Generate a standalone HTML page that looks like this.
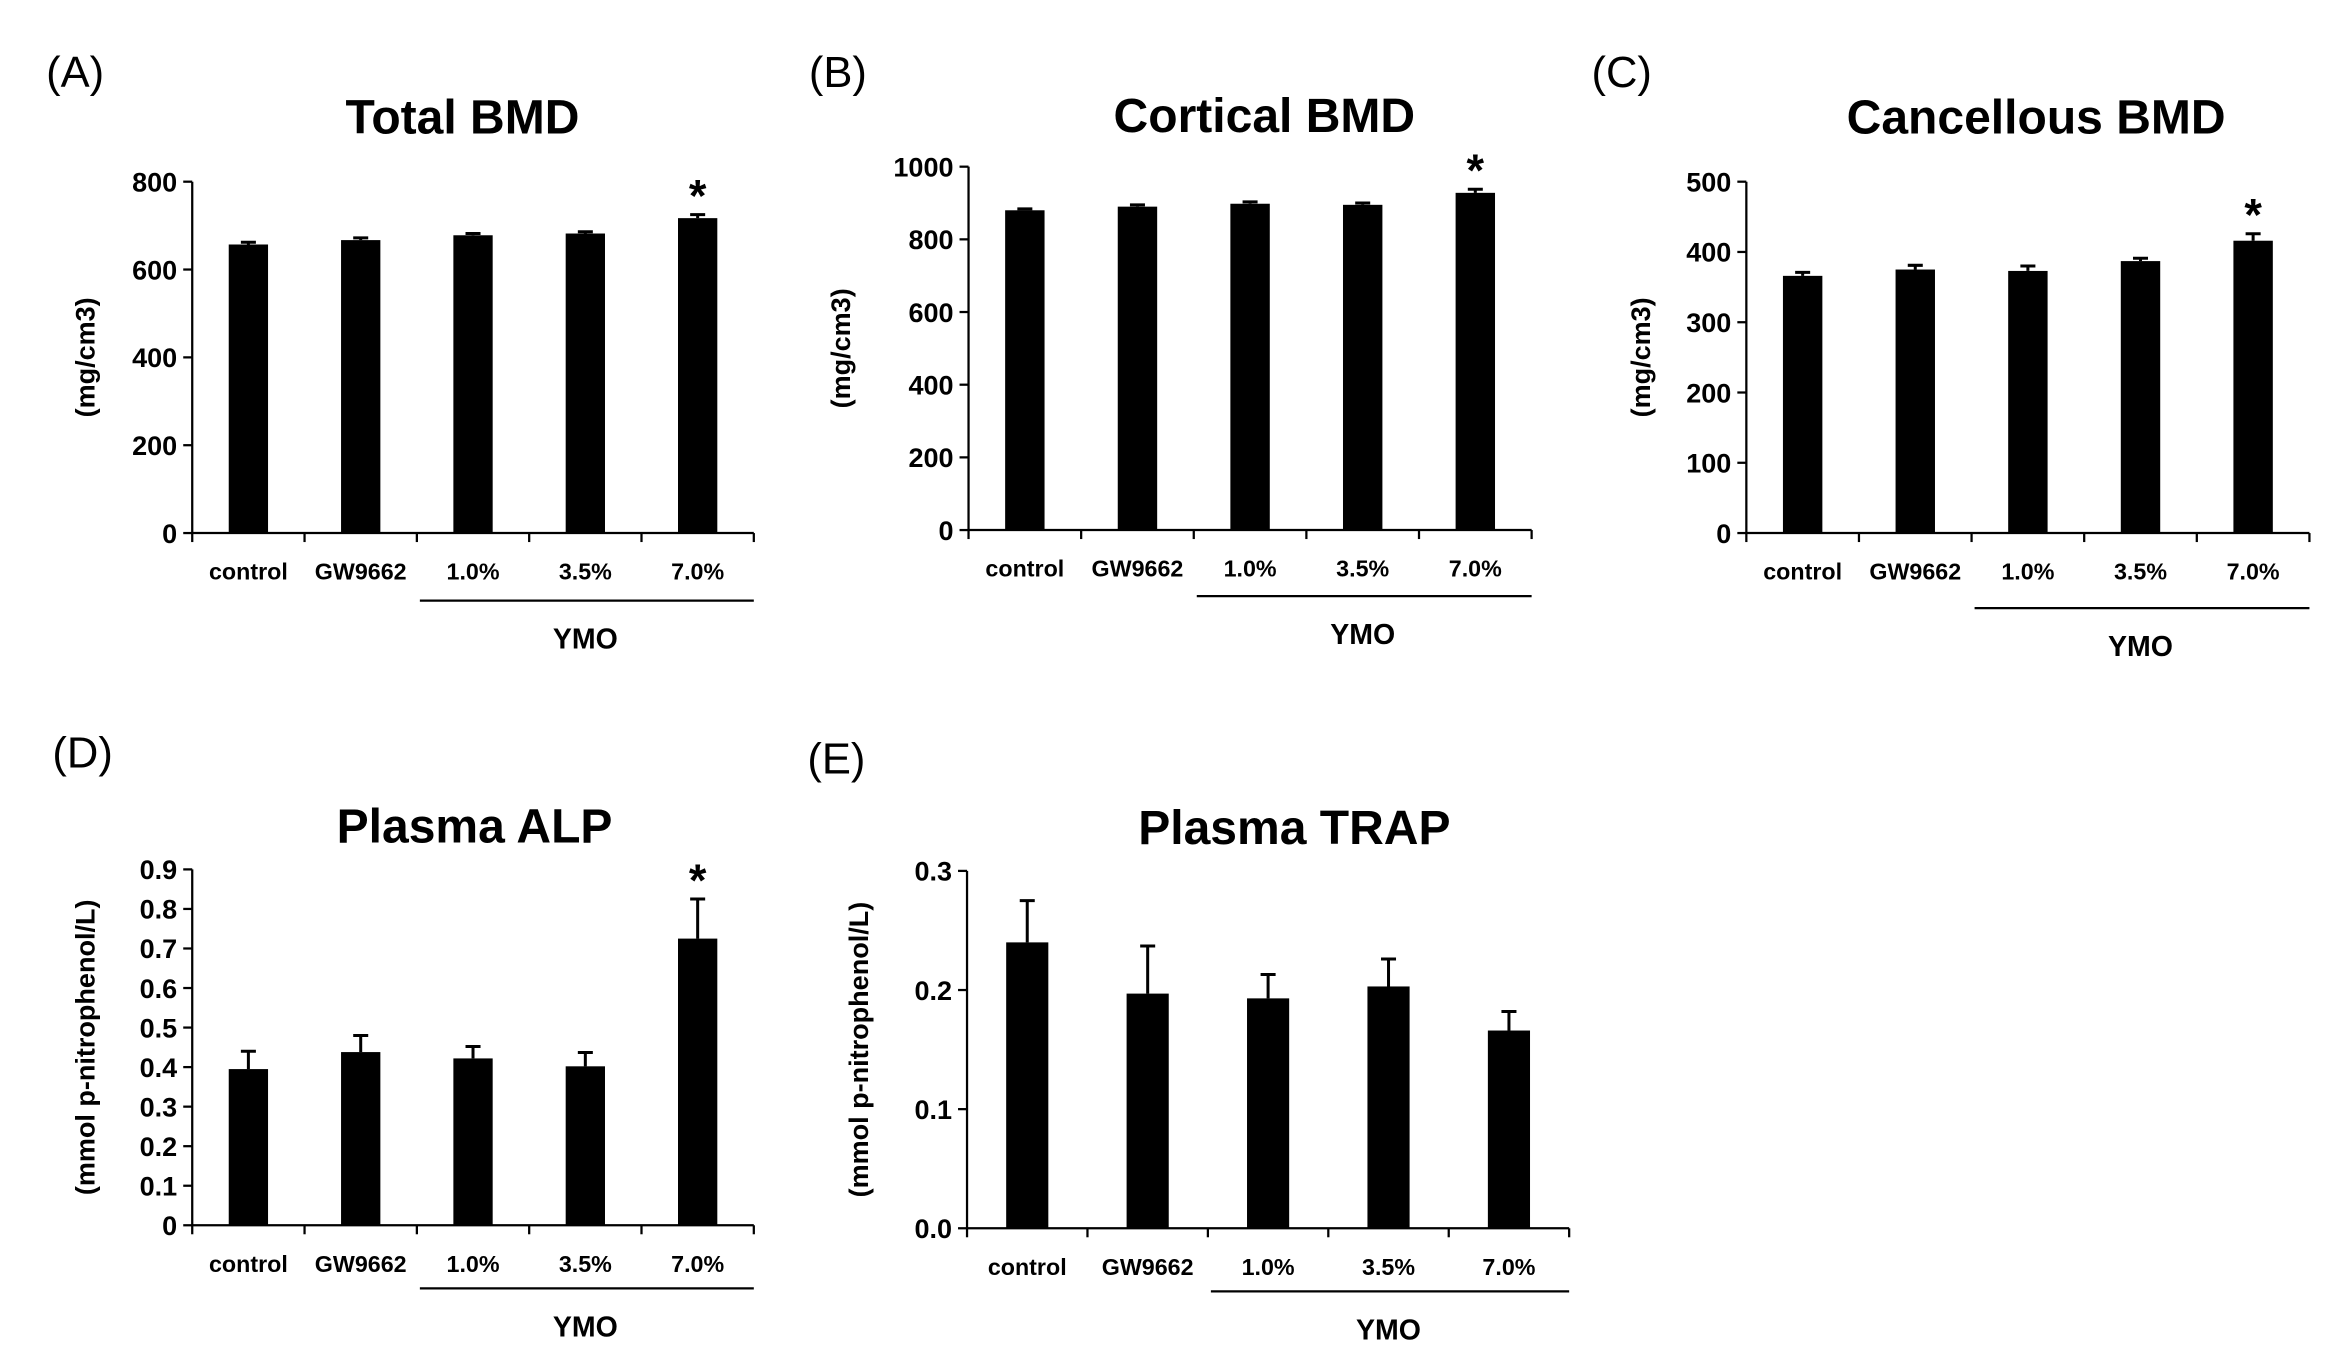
<!DOCTYPE html>
<html><head><meta charset="utf-8"><style>
html,body{margin:0;padding:0;background:#fff}
svg{display:block}
text{font-family:"Liberation Sans",sans-serif;fill:#000}
</style></head><body>
<svg id="fig" width="2347" height="1349" viewBox="0 0 1563 898.4" xmlns="http://www.w3.org/2000/svg"></svg>
<script>
const categories = ["control","GW9662","1.0%","3.5%","7.0%"];
const totalBMD = [657,667,678,682,717];
const totalBMDErr = [5,5,4,4,8];
const corticalBMD = [880,890,898,895,928];
const corticalBMDErr = [4,5,5,5,10];
const cancellousBMD = [366,375,373,387,416];
const cancellousBMDErr = [5,6,7,4,10];
const plasmaALP = [0.395,0.438,0.422,0.402,0.725];
const plasmaALPErr = [0.045,0.042,0.03,0.035,0.1];
const plasmaTRAP = [0.240,0.197,0.193,0.203,0.166];
const plasmaTRAPErr = [0.035,0.040,0.020,0.023,0.016];
const ticksA = ["0","200","400","600","800"];
const ticksB = ["0","200","400","600","800","1000"];
const ticksC = ["0","100","200","300","400","500"];
const ticksD = ["0","0.1","0.2","0.3","0.4","0.5","0.6","0.7","0.8","0.9"];
const ticksE = ["0.0","0.1","0.2","0.3"];
const starsA = [false,false,false,false,true];
const starsB = [false,false,false,false,true];
const starsC = [false,false,false,false,true];
const starsD = [false,false,false,false,true];
const starsE = [false,false,false,false,false];

const svg = document.getElementById('fig');
const NS = 'http://www.w3.org/2000/svg';
function mk(tag, attrs, parent, txt){
  const e = document.createElementNS(NS, tag);
  for (const k in attrs) e.setAttribute(k, attrs[k]);
  if (txt !== undefined) e.textContent = txt;
  (parent || svg).appendChild(e);
  return e;
}

function panel(p){
  const g = mk('g', {});
  
  
  const ymax = parseFloat(p.ticks[p.ticks.length-1]);
  const yScale = v => p.y0 - (v / ymax) * (p.y0 - p.ytop);
  const n = categories.length;
  const step = (p.x1 - p.x0) / n;
  const xc = i => p.x0 + step * (i + 0.5);
  const lt = mk('text', {x:p.lx, y:p.ly, 'font-size':29, 'text-anchor':'middle'}, g, p.letter);
  
  
  const tt = mk('text', {x:p.tx, y:p.ty, 'font-size':32, 'font-weight':'bold', 'text-anchor':'middle'}, g, p.title);
  
  
  const ya = mk('line', {x1:p.x0, y1:p.ytop, x2:p.x0, y2:p.y0, stroke:'#000', 'stroke-width':1.5}, g);
  
  
  p.ticks.forEach(t => {
    const y = yScale(parseFloat(t));
    mk('line', {x1:p.x0-6, y1:y, x2:p.x0, y2:y, stroke:'#000', 'stroke-width':1.5}, g);
    const tl = mk('text', {x:p.x0-10, y:y+6.5, 'font-size':18, 'font-weight':'bold', 'text-anchor':'end'}, g, t);
    
    
  });
  const yt = mk('text', {x:0, y:0, 'font-size':18, 'font-weight':'bold', 'text-anchor':'middle',
    transform:'translate(' + p.yx + ',' + ((p.y0 + p.ytop) / 2) + ') rotate(-90)'}, g, p.ytitle);
  
  
  const xa = mk('line', {x1:p.x0, y1:p.y0, x2:p.x1, y2:p.y0, stroke:'#000', 'stroke-width':1.5}, g);
  
  
  for (let i = 0; i <= n; i++) {
    mk('line', {x1:p.x0+step*i, y1:p.y0, x2:p.x0+step*i, y2:p.y0+6, stroke:'#000', 'stroke-width':1.5}, g);
  }
  const bw = step * 0.35;
  p.vals.forEach((v, i) => {
    const yv = yScale(v);
    const r = mk('rect', {x:xc(i)-bw/2, y:yv, width:bw, height:p.y0-yv, fill:'#000'}, g);
    
    
    const ye = yScale(v + p.err[i]);
    const e = mk('path', {d:'M' + xc(i) + ',' + yv + 'V' + ye + 'M' + (xc(i)-5) + ',' + ye + 'H' + (xc(i)+5), stroke:'#000', 'stroke-width':2, fill:'none'}, g);
    
    
    if (p.stars[i]) {
      const s = mk('text', {x:xc(i), y:ye-2, 'font-size':30, 'font-weight':'bold', 'text-anchor':'middle'}, g, '*');
      
      
    }
    const cl = mk('text', {x:xc(i), y:p.y0+31, 'font-size':15.5, 'font-weight':'bold', 'text-anchor':'middle'}, g, categories[i]);
    
    
  });
  const ul = mk('line', {x1:p.x0+step*2+2, y1:p.y0+p.ulOff, x2:p.x1, y2:p.y0+p.ulOff, stroke:'#000', 'stroke-width':1.5}, g);
  
  
  const ym = mk('text', {x:p.x0+step*3.5, y:p.y0+p.ulOff+32, 'font-size':19, 'font-weight':'bold', 'text-anchor':'middle'}, g, 'YMO');
  
  
}

panel({id:'total-bmd', letter:'(A)', lx:50, ly:58, title:'Total BMD', tx:308, ty:89,
  x0:128, x1:502, y0:355, ytop:121, ticks:ticksA, vals:totalBMD, err:totalBMDErr, stars:starsA,
  ytitle:'(mg/cm3)', yx:63, ulOff:45});
panel({id:'cortical-bmd', letter:'(B)', lx:558, ly:58, title:'Cortical BMD', tx:842, ty:88,
  x0:645, x1:1020, y0:353, ytop:111, ticks:ticksB, vals:corticalBMD, err:corticalBMDErr, stars:starsB,
  ytitle:'(mg/cm3)', yx:566, ulOff:44});
panel({id:'cancellous-bmd', letter:'(C)', lx:1080, ly:58, title:'Cancellous BMD', tx:1356, ty:89,
  x0:1163, x1:1538, y0:355, ytop:121, ticks:ticksC, vals:cancellousBMD, err:cancellousBMDErr, stars:starsC,
  ytitle:'(mg/cm3)', yx:1099, ulOff:50});
panel({id:'plasma-alp', letter:'(D)', lx:55, ly:511, title:'Plasma ALP', tx:316, ty:561,
  x0:128, x1:502, y0:816, ytop:579, ticks:ticksD, vals:plasmaALP, err:plasmaALPErr, stars:starsD,
  ytitle:'(mmol p-nitrophenol/L)', yx:63, ulOff:42});
panel({id:'plasma-trap', letter:'(E)', lx:557, ly:515, title:'Plasma TRAP', tx:862, ty:562,
  x0:644, x1:1045, y0:818, ytop:580, ticks:ticksE, vals:plasmaTRAP, err:plasmaTRAPErr, stars:starsE,
  ytitle:'(mmol p-nitrophenol/L)', yx:578, ulOff:42});
</script>
</body></html>
